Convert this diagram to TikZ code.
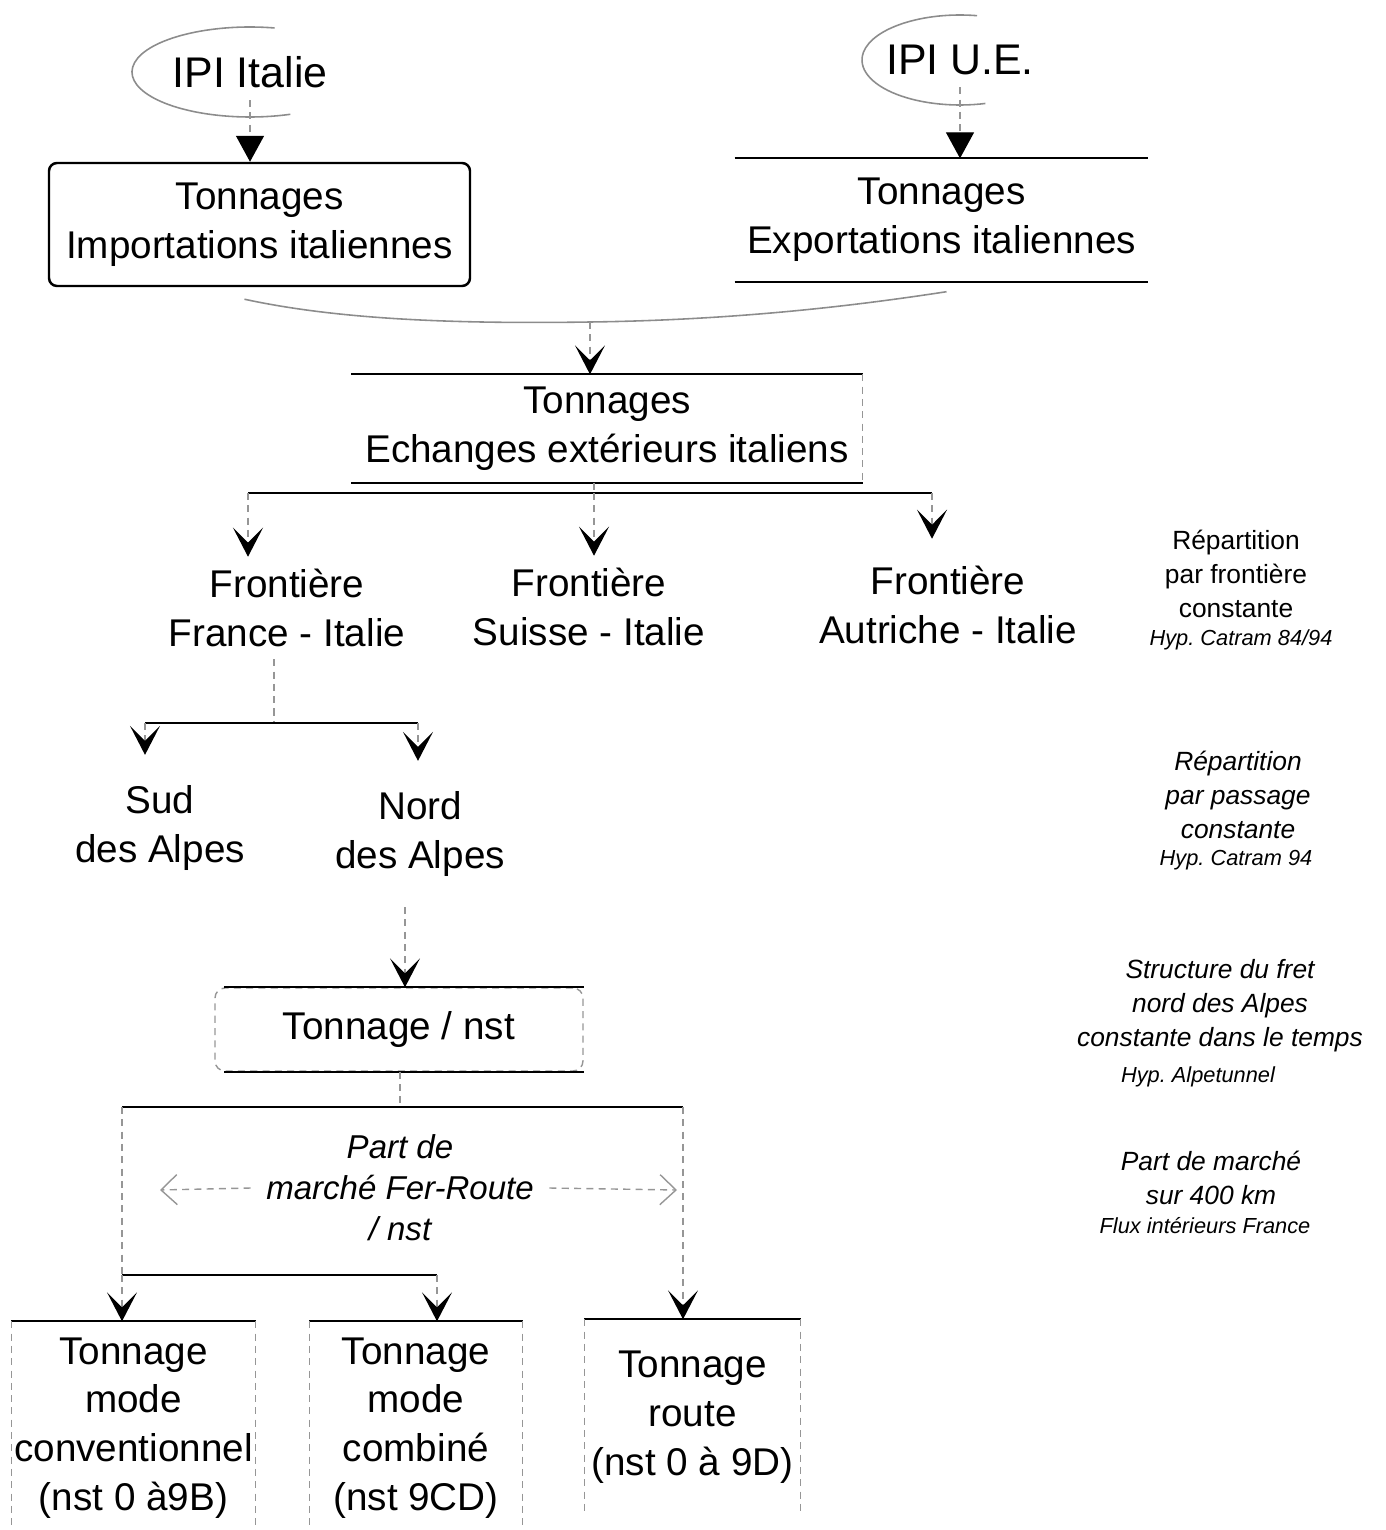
\documentclass[tikz,border=0pt]{standalone}
\usepackage{fontspec}
\setmainfont{Liberation Sans}
\usetikzlibrary{arrows.meta,positioning,calc}
\definecolor{scangray}{RGB}{150,150,150}
\newcommand{\bigtxt}{\fontsize{11}{13.9}\selectfont}
\newcommand{\ipitxt}{\fontsize{12.2}{15}\selectfont}
\newcommand{\midtxt}{\fontsize{9.4}{11.7}\selectfont}
\newcommand{\notetxt}{\fontsize{7.5}{9.7}\selectfont}
\newcommand{\hyptxt}{\fontsize{6.2}{8}\selectfont}
\frenchspacing

\begin{document}
\begin{tikzpicture}[
    line/.style={black, line width=0.5pt},
    faint/.style={scangray, line width=0.4pt, dash pattern=on 2pt off 1.5pt},
    ring/.style={black!45, line width=0.45pt},
    tri/.style={faint, -{Triangle[length=0.26cm, width=0.28cm, color=black]}},
    chev/.style={faint, -{Stealth[length=0.29cm, width=0.30cm, inset=0.15cm, color=black]}},
    openarr/.style={faint, -{Straight Barb[length=0.16cm, width=0.30cm]}},
    txt/.style={align=center, font=\bigtxt},
    note/.style={align=center, font=\notetxt},
    hyp/.style={align=center, font=\hyptxt\itshape}
]
    \useasboundingbox (0,0) rectangle (13.86,-15.30);

    % Sources
    \node[font=\ipitxt] (ipiit) at (2.50,-0.72) {IPI Italie};
    \node[font=\ipitxt] (ipiue) at (9.60,-0.60) {IPI U.E.};
    \draw[ring] ([shift={(78:1.18 and 0.45)}]ipiit.center) arc[start angle=78, end angle=290, x radius=1.18, y radius=0.45];
    \draw[ring] ([shift={(80:0.98 and 0.45)}]ipiue.center) arc[start angle=80, end angle=285, x radius=0.98, y radius=0.45];

    % Tonnages
    \node[txt, draw, rounded corners=0.08cm, line width=0.7pt, minimum width=4.21cm, minimum height=1.23cm] (imp) at (2.595,-2.245) {Tonnages\\Importations italiennes};
    \node[txt, minimum width=4.07cm, minimum height=1.22cm] (exp) at (9.415,-2.20) {Tonnages\\Exportations italiennes};
    \draw[line] (exp.north west) -- (exp.north east);
    \draw[line] (exp.south west) -- (exp.south east);

    \draw[tri] (ipiit.south) -- (ipiit.south |- imp.north);
    \draw[tri] (ipiue.south) -- (ipiue.south |- exp.north);

    % Merge
    \coordinate (merge) at (5.90,-3.22);
    \draw[ring] ([xshift=-0.15cm,yshift=-0.12cm]imp.south) .. controls (3.4,-3.20) and (4.6,-3.24) .. (merge)
        .. controls (7.4,-3.20) and (8.6,-3.05) .. ([xshift=0.05cm,yshift=-0.10cm]exp.south);

    \node[txt, minimum width=5.10cm, minimum height=0.99cm] (ech) at (6.07,-4.285) {Tonnages\\Echanges extérieurs italiens};
    \draw[line] (ech.north west) -- (ech.north east);
    \draw[line] (ech.south west) -- (ech.south east);
    \draw[faint] (ech.north east) -- (ech.south east);
    \draw[chev] (merge) -- (merge |- ech.north);

    % Frontieres
    \node[txt] (fra) at (2.87,-6.08) {Frontière\\France - Italie};
    \node[txt] (sui) at (5.89,-6.07) {Frontière\\Suisse - Italie};
    \node[txt] (aut) at (9.48,-6.05) {Frontière\\Autriche - Italie};

    \coordinate (splitA) at (2.48,-4.93);
    \coordinate (splitC) at (5.94,-4.93);
    \coordinate (splitB) at (9.32,-4.93);
    \draw[faint] (splitC |- ech.south) -- (splitC);
    \draw[line] (splitA) -- (splitB);
    \draw[chev] (splitA) -- (splitA |- fra.north);
    \draw[chev] (splitC) -- (splitC |- sui.north);
    \draw[chev] (splitB) -- ([yshift=0.15cm]splitB |- aut.north);

    % Passages
    \node[txt, inner ysep=0.3cm] (sud) at (1.60,-8.28) {Sud\\des Alpes};
    \node[txt, inner ysep=0.3cm] (nord) at (4.20,-8.34) {Nord\\des Alpes};

    \coordinate (frsplit) at (2.74,-7.23);
    \coordinate (sudtop) at (1.45,-7.23);
    \coordinate (nordtop) at (4.18,-7.23);
    \draw[faint] (frsplit |- fra.south) -- (frsplit);
    \draw[line] (sudtop) -- (nordtop);
    \draw[chev] (sudtop) -- (sudtop |- sud.north);
    \draw[chev] (nordtop) -- (nordtop |- nord.north);

    % Tonnage / nst
    \node[txt, draw=scangray, dash pattern=on 2pt off 1.5pt, rounded corners=0.1cm, minimum width=3.68cm, minimum height=0.83cm] (nst) at (3.99,-10.295) {Tonnage / nst};
    \draw[line] ([xshift=0.1cm]nst.north west) -- (nst.north east);
    \draw[line] ([xshift=0.1cm]nst.south west) -- (nst.south east);

    \coordinate (nordout) at (4.05,-9.05);
    \draw[chev] (nordout |- nord.south) -- (nordout |- nst.north);

    % Parts de marche
    \coordinate (nstsplit) at (4.00,-11.07);
    \coordinate (leftup) at (1.22,-11.07);
    \coordinate (rightup) at (6.83,-11.07);
    \coordinate (leftdown) at (1.22,-12.75);
    \coordinate (combdown) at (4.37,-12.75);
    \coordinate (lefttip) at (1.60,-11.90);
    \coordinate (righttip) at (6.77,-11.90);

    \node[align=center, font=\midtxt\itshape, inner xsep=0.15cm] (part) at (4.00,-11.88) {Part de\\marché Fer-Route\\/ nst};

    \node[txt, inner xsep=0.02cm, minimum width=2.43cm, minimum height=2.12cm] (conv) at (1.335,-14.28) {Tonnage\\mode\\conventionnel\\(nst 0 à9B)};
    \node[txt, inner xsep=0.02cm, minimum width=2.12cm, minimum height=2.12cm] (comb) at (4.16,-14.28) {Tonnage\\mode\\combiné\\(nst 9CD)};
    \node[txt, inner xsep=0.02cm, minimum width=2.15cm, minimum height=1.94cm] (route) at (6.925,-14.17) {Tonnage\\route\\(nst 0 à 9D)};
    \foreach \b in {conv,comb,route} {
        \draw[line] (\b.north west) -- (\b.north east);
        \draw[faint] (\b.north west) -- (\b.south west);
        \draw[faint] (\b.north east) -- (\b.south east);
    }

    \draw[faint] (nst.south -| nstsplit) -- (nstsplit);
    \draw[line] (leftup) -- (rightup);
    \draw[faint] (leftup) -- (leftdown);
    \draw[line] (leftdown) -- (combdown);
    \draw[chev] (leftdown) -- (leftdown |- conv.north);
    \draw[chev] (combdown) -- (combdown |- comb.north);
    \draw[chev] (rightup) -- (rightup |- route.north);
    \draw[openarr] (part.west) -- (lefttip);
    \draw[openarr] (part.east) -- (righttip);

    % Hypotheses
    \node[note] (note1) at (12.36,-5.74) {Répartition\\par frontière\\constante};
    \node[hyp] (hyp1) at (12.41,-6.40) {Hyp. Catram 84/94};
    \node[note, font=\notetxt\itshape] (note2) at (12.38,-7.95) {Répartition\\par passage\\constante};
    \node[hyp] (hyp2) at (12.36,-8.60) {Hyp. Catram 94};
    \node[note, font=\notetxt\itshape] (note3) at (12.20,-10.06) {Structure du fret\\nord des Alpes\\constante dans le temps};
    \node[hyp] (hyp3) at (11.98,-10.77) {Hyp. Alpetunnel};
    \node[note, font=\notetxt\itshape] (note4) at (12.11,-11.78) {Part de marché\\sur 400 km};
    \node[hyp] (hyp4) at (12.05,-12.26) {Flux intérieurs France};
\end{tikzpicture}
\end{document}
